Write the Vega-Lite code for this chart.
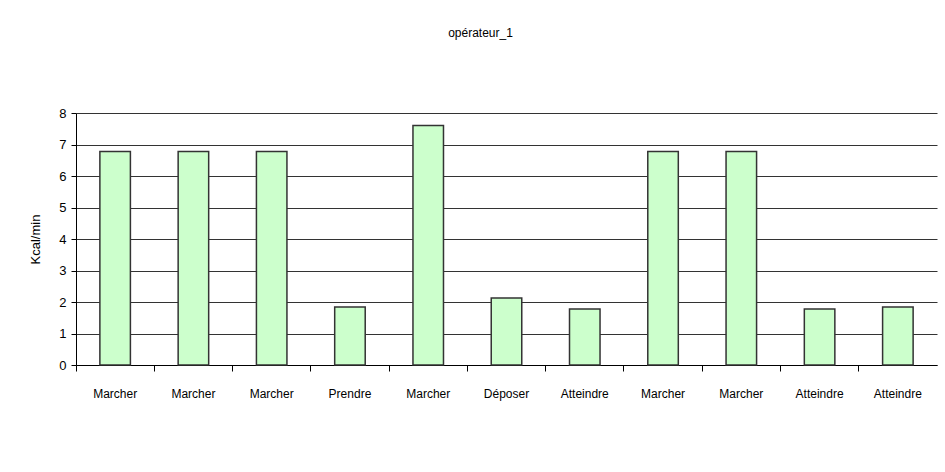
{
  "$schema": "https://vega.github.io/schema/vega-lite/v6.json",
  "autosize": "none",
  "width": 861,
  "height": 252,
  "padding": {"left": 76, "top": 113, "right": 8, "bottom": 107},
  "background": "white",
  "config": {
    "view": {"stroke": null},
    "font": "Liberation Sans Narrow, Liberation Sans, Arial"
  },
  "title": {
    "text": "opérateur_1",
    "fontSize": 12,
    "fontWeight": "normal",
    "font": "Liberation Sans Narrow, Liberation Sans",
    "color": "#000",
    "anchor": "middle",
    "dx": -26,
    "offset": 67
  },
  "data": {
    "values": [
      {"key": "01|Marcher", "kcal": 6.78},
      {"key": "02|Marcher", "kcal": 6.78},
      {"key": "03|Marcher", "kcal": 6.78},
      {"key": "04|Prendre", "kcal": 1.84},
      {"key": "05|Marcher", "kcal": 7.6},
      {"key": "06|Déposer", "kcal": 2.13},
      {"key": "07|Atteindre", "kcal": 1.78},
      {"key": "08|Marcher", "kcal": 6.78},
      {"key": "09|Marcher", "kcal": 6.78},
      {"key": "10|Atteindre", "kcal": 1.78},
      {"key": "11|Atteindre", "kcal": 1.84}
    ]
  },
  "mark": {
    "type": "bar",
    "width": {"band": 0.39},
    "fill": "#CCFFCC",
    "stroke": "#333333",
    "strokeWidth": 1.5
  },
  "encoding": {
    "x": {
      "field": "key",
      "type": "nominal",
      "sort": null,
      "scale": {"paddingInner": 0, "paddingOuter": 0},
      "axis": {
        "title": null,
        "labelAngle": 0,
        "labelExpr": "split(datum.value, '|')[1]",
        "labelFont": "Liberation Sans Narrow, Liberation Sans",
        "labelFontSize": 12,
        "labelColor": "#000",
        "labelPadding": 17,
        "bandPosition": 0,
        "tickColor": "#000",
        "tickSize": 6,
        "domainColor": "#000",
        "grid": false
      }
    },
    "y": {
      "field": "kcal",
      "type": "quantitative",
      "scale": {"domain": [0, 8], "nice": false},
      "axis": {
        "title": "Kcal/min",
        "titleFont": "Liberation Sans, Arial",
        "titleFontSize": 13,
        "titleFontWeight": "normal",
        "titleColor": "#000",
        "titlePadding": 16,
        "values": [0, 1, 2, 3, 4, 5, 6, 7, 8],
        "labelFont": "Liberation Sans, Arial",
        "labelFontSize": 13,
        "labelColor": "#000",
        "labelPadding": 5,
        "tickColor": "#000",
        "tickSize": 5,
        "domainColor": "#000",
        "grid": true,
        "gridColor": "#333333",
        "gridOpacity": 1
      }
    }
  }
}
